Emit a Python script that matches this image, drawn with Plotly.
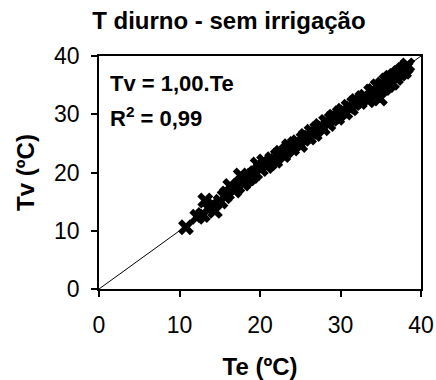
import plotly.graph_objects as go

te = [10.8, 12.2, 12.9, 13.2, 13.6, 14.1, 14.4, 15.1, 15.6, 15.9,
      16.3, 16.8, 17.2, 17.6, 17.9, 18.2, 18.6, 19.0, 19.4, 19.7,
      20.1, 20.5, 20.8, 21.2, 21.5, 21.9, 22.2, 22.6, 22.9, 23.3,
      23.6, 24.0, 24.3, 24.7, 25.0, 25.4, 25.7, 26.1, 26.4, 26.8,
      27.1, 27.5, 27.8, 28.2, 28.5, 28.9, 29.2, 29.6, 29.9, 30.3,
      30.6, 31.0, 31.3, 31.7, 32.0, 32.4, 32.7, 33.1, 33.4, 33.8,
      34.1, 34.4, 34.6, 34.9, 35.2, 35.4, 35.7, 35.9, 36.2, 36.4,
      36.7, 36.9, 37.2, 37.4, 37.7, 37.9, 38.1, 38.3]
tv = [10.6, 12.4, 12.7, 15.2, 13.9, 14.5, 13.4, 15.0, 15.9, 16.4,
      17.7, 16.9, 17.6, 19.5, 18.1, 18.6, 19.0, 19.4, 19.9, 21.4,
      20.6, 21.9, 21.1, 21.6, 22.3, 22.0, 22.9, 23.4, 23.0, 23.8,
      24.5, 24.1, 24.9, 25.2, 24.7, 25.8, 26.3, 26.0, 27.0, 26.6,
      27.5, 28.0, 27.6, 28.7, 28.3, 29.2, 29.6, 29.4, 30.2, 30.6,
      30.3, 31.3, 31.0, 31.9, 32.3, 32.1, 32.8, 33.0, 32.4, 33.9,
      34.0, 33.3, 34.8, 32.7, 35.1, 34.5, 35.8, 35.0, 36.3, 35.4,
      36.6, 36.2, 37.1, 37.0, 37.6, 37.3, 38.0, 38.4]
ref_line = [0, 40]
tick_vals = [0, 10, 20, 30, 40]

title_text = "T diurno - sem irrigação"
x_title = "Te (ºC)"
y_title = "Tv (ºC)"
eq_text = "Tv = 1,00.Te"
r2_text = "R<sup>2</sup> = 0,99"

FONT = "Liberation Sans, Arial, sans-serif"

fig = go.Figure()
fig.add_trace(go.Scatter(x=ref_line, y=ref_line, mode="lines",
                         line=dict(color="black", width=1), hoverinfo="skip"))
fig.add_trace(go.Scatter(x=te, y=tv, mode="markers",
                         marker=dict(symbol="x", size=14, color="black",
                                     line=dict(width=0))))

axis_common = dict(range=[0, 40], tickvals=tick_vals, showgrid=False, zeroline=False,
                   showline=True, linecolor="black", linewidth=1.5, mirror=True,
                   ticks="outside", ticklen=6, tickcolor="black", tickwidth=1.5,
                   automargin=False,
                   tickfont=dict(family=FONT, size=23, color="black"))

fig.update_layout(
    width=436, height=380,
    margin=dict(l=99, r=15, t=56, b=91),
    paper_bgcolor="white", plot_bgcolor="white",
    showlegend=False,
    title=dict(text="<b>" + title_text + "</b>", x=0.525, xanchor="center",
               y=1 - 21 / 380, yanchor="middle",
               font=dict(family=FONT, size=24, color="black")),
    xaxis=dict(**axis_common, ticklabelstandoff=9,
               title=dict(text="<b>" + x_title + "</b>", standoff=22,
                          font=dict(family=FONT, size=24, color="black"))),
    yaxis=dict(**axis_common, ticklabelstandoff=7,
               title=dict(text="<b>" + y_title + "</b>", standoff=13,
                          font=dict(family=FONT, size=24, color="black"))),
    annotations=[
        dict(text="<b>" + eq_text + "</b>", xref="paper", yref="paper",
             x=0.028, y=0.884, xanchor="left", yanchor="middle", showarrow=False,
             font=dict(family=FONT, size=22, color="black")),
        dict(text="<b>" + r2_text + "</b>", xref="paper", yref="paper",
             x=0.028, y=0.737, xanchor="left", yanchor="middle", showarrow=False,
             font=dict(family=FONT, size=22, color="black")),
    ],
)

fig.write_html("out.html", config={"displayModeBar": False},
               post_script="document.body.style.margin='0px';")
